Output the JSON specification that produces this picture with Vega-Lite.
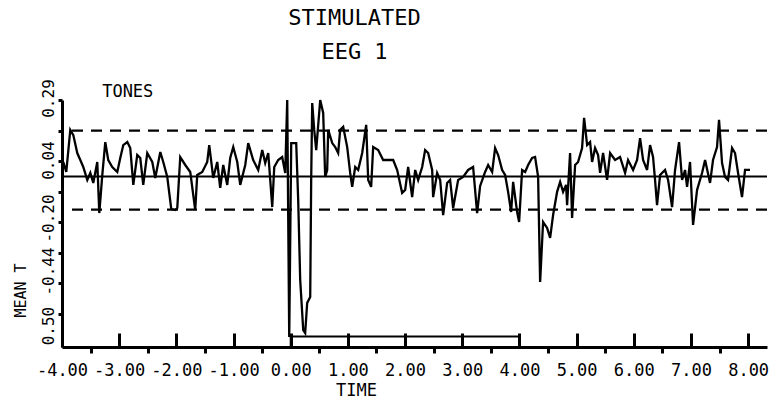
{
  "$schema": "https://vega.github.io/schema/vega-lite/v6.json",
  "width": 705,
  "height": 247,
  "autosize": {"type": "none"},
  "padding": {"left": 62, "top": 100, "right": 9, "bottom": 56},
  "background": "white",
  "config": {"view": {"stroke": null}, "font": "DejaVu Sans Mono", "axis": {"labelOverlap": false}},
  "title": {
    "text": "STIMULATED",
    "subtitle": "EEG 1",
    "anchor": "middle",
    "dx": -60,
    "font": "DejaVu Sans Mono",
    "fontSize": 22,
    "fontWeight": "normal",
    "color": "black",
    "subtitleFont": "DejaVu Sans Mono",
    "subtitleFontSize": 22,
    "subtitleColor": "black",
    "subtitlePadding": 12,
    "offset": 15
  },
  "datasets": {
    "eeg": [
      {"t": -3.977, "v": 0.041}, {"t": -3.925, "v": 0.001}, {"t": -3.855, "v": 0.170}, {"t": -3.802, "v": 0.149},
      {"t": -3.733, "v": 0.077}, {"t": -3.680, "v": 0.049}, {"t": -3.628, "v": 0.021}, {"t": -3.558, "v": -0.031},
      {"t": -3.505, "v": -0.003}, {"t": -3.453, "v": -0.043}, {"t": -3.383, "v": 0.041}, {"t": -3.348, "v": -0.164},
      {"t": -3.295, "v": -0.011}, {"t": -3.243, "v": 0.121}, {"t": -3.191, "v": 0.049}, {"t": -3.121, "v": 0.021},
      {"t": -3.033, "v": 0.001}, {"t": -2.981, "v": 0.057}, {"t": -2.928, "v": 0.109}, {"t": -2.858, "v": 0.121},
      {"t": -2.806, "v": 0.097}, {"t": -2.753, "v": -0.051}, {"t": -2.684, "v": 0.069}, {"t": -2.631, "v": 0.057},
      {"t": -2.579, "v": -0.051}, {"t": -2.509, "v": 0.077}, {"t": -2.421, "v": 0.041}, {"t": -2.369, "v": -0.023},
      {"t": -2.281, "v": 0.081}, {"t": -2.229, "v": 0.041}, {"t": -2.159, "v": -0.019}, {"t": -2.089, "v": -0.148},
      {"t": -2.019, "v": -0.152}, {"t": -1.984, "v": -0.144}, {"t": -1.932, "v": 0.061}, {"t": -1.844, "v": 0.029},
      {"t": -1.757, "v": 0.001}, {"t": -1.670, "v": -0.152}, {"t": -1.635, "v": -0.011}, {"t": -1.547, "v": 0.001},
      {"t": -1.460, "v": 0.041}, {"t": -1.425, "v": 0.109}, {"t": -1.355, "v": -0.023}, {"t": -1.285, "v": 0.041},
      {"t": -1.233, "v": -0.063}, {"t": -1.180, "v": 0.029}, {"t": -1.110, "v": -0.051}, {"t": -1.058, "v": 0.057},
      {"t": -1.005, "v": 0.101}, {"t": -0.935, "v": 0.041}, {"t": -0.883, "v": -0.051}, {"t": -0.795, "v": 0.029},
      {"t": -0.743, "v": 0.117}, {"t": -0.656, "v": 0.049}, {"t": -0.568, "v": 0.009}, {"t": -0.498, "v": 0.089},
      {"t": -0.446, "v": 0.037}, {"t": -0.393, "v": 0.077}, {"t": -0.323, "v": -0.140}, {"t": -0.288, "v": 0.021},
      {"t": -0.219, "v": 0.049}, {"t": -0.149, "v": 0.061}, {"t": -0.096, "v": -0.003}, {"t": -0.061, "v": 0.290},
      {"t": -0.026, "v": -0.662}, {"t": 0.009, "v": 0.117}, {"t": 0.096, "v": 0.117}, {"t": 0.131, "v": -0.112},
      {"t": 0.166, "v": -0.433}, {"t": 0.219, "v": -0.634}, {"t": 0.253, "v": -0.646}, {"t": 0.288, "v": -0.525},
      {"t": 0.341, "v": -0.501}, {"t": 0.358, "v": -0.031}, {"t": 0.376, "v": 0.278}, {"t": 0.411, "v": 0.170},
      {"t": 0.446, "v": 0.089}, {"t": 0.516, "v": 0.290}, {"t": 0.568, "v": 0.238}, {"t": 0.603, "v": -0.019},
      {"t": 0.638, "v": 0.009}, {"t": 0.656, "v": 0.170}, {"t": 0.726, "v": 0.117}, {"t": 0.778, "v": 0.101},
      {"t": 0.830, "v": 0.077}, {"t": 0.865, "v": 0.170}, {"t": 0.918, "v": 0.182}, {"t": 0.988, "v": 0.101},
      {"t": 1.040, "v": -0.003}, {"t": 1.075, "v": -0.059}, {"t": 1.128, "v": 0.021}, {"t": 1.180, "v": 0.009},
      {"t": 1.250, "v": 0.077}, {"t": 1.320, "v": 0.190}, {"t": 1.355, "v": -0.031}, {"t": 1.407, "v": -0.059},
      {"t": 1.442, "v": 0.101}, {"t": 1.530, "v": 0.089}, {"t": 1.617, "v": 0.049}, {"t": 1.687, "v": 0.049},
      {"t": 1.792, "v": 0.049}, {"t": 1.862, "v": 0.009}, {"t": 1.949, "v": -0.083}, {"t": 2.002, "v": -0.071},
      {"t": 2.054, "v": 0.021}, {"t": 2.124, "v": -0.100}, {"t": 2.177, "v": 0.009}, {"t": 2.229, "v": -0.031},
      {"t": 2.299, "v": 0.021}, {"t": 2.351, "v": 0.089}, {"t": 2.404, "v": 0.077}, {"t": 2.474, "v": 0.009},
      {"t": 2.491, "v": -0.100}, {"t": 2.561, "v": -0.003}, {"t": 2.614, "v": -0.031}, {"t": 2.666, "v": -0.172},
      {"t": 2.736, "v": -0.043}, {"t": 2.788, "v": -0.031}, {"t": 2.841, "v": -0.144}, {"t": 2.928, "v": -0.031},
      {"t": 3.016, "v": -0.019}, {"t": 3.103, "v": 0.009}, {"t": 3.190, "v": 0.021}, {"t": 3.260, "v": -0.164},
      {"t": 3.313, "v": -0.055}, {"t": 3.400, "v": 0.001}, {"t": 3.453, "v": 0.029}, {"t": 3.523, "v": 0.001},
      {"t": 3.575, "v": 0.097}, {"t": 3.628, "v": 0.069}, {"t": 3.698, "v": 0.009}, {"t": 3.750, "v": -0.011},
      {"t": 3.802, "v": -0.079}, {"t": 3.855, "v": -0.160}, {"t": 3.890, "v": -0.039}, {"t": 3.960, "v": -0.160},
      {"t": 3.995, "v": -0.200}, {"t": 4.047, "v": 0.009}, {"t": 4.100, "v": 0.001}, {"t": 4.152, "v": 0.029},
      {"t": 4.222, "v": 0.057}, {"t": 4.274, "v": 0.061}, {"t": 4.327, "v": -0.019}, {"t": 4.362, "v": -0.441},
      {"t": 4.414, "v": -0.200}, {"t": 4.484, "v": -0.224}, {"t": 4.537, "v": -0.264}, {"t": 4.589, "v": -0.172},
      {"t": 4.659, "v": -0.079}, {"t": 4.712, "v": -0.039}, {"t": 4.764, "v": -0.079}, {"t": 4.816, "v": -0.051},
      {"t": 4.834, "v": -0.132}, {"t": 4.886, "v": 0.077}, {"t": 4.921, "v": -0.184}, {"t": 4.974, "v": 0.029},
      {"t": 5.026, "v": 0.041}, {"t": 5.096, "v": 0.097}, {"t": 5.131, "v": 0.218}, {"t": 5.184, "v": 0.109},
      {"t": 5.236, "v": 0.121}, {"t": 5.271, "v": 0.041}, {"t": 5.323, "v": 0.097}, {"t": 5.376, "v": 0.069},
      {"t": 5.411, "v": -0.003}, {"t": 5.463, "v": 0.077}, {"t": 5.533, "v": -0.031}, {"t": 5.586, "v": 0.077},
      {"t": 5.673, "v": 0.049}, {"t": 5.760, "v": 0.061}, {"t": 5.848, "v": -0.003}, {"t": 5.900, "v": 0.049},
      {"t": 5.988, "v": 0.009}, {"t": 6.058, "v": 0.049}, {"t": 6.110, "v": 0.137}, {"t": 6.163, "v": 0.049},
      {"t": 6.233, "v": 0.009}, {"t": 6.285, "v": 0.109}, {"t": 6.337, "v": 0.061}, {"t": 6.372, "v": -0.031},
      {"t": 6.407, "v": -0.132}, {"t": 6.460, "v": -0.011}, {"t": 6.547, "v": 0.009}, {"t": 6.600, "v": -0.031},
      {"t": 6.670, "v": -0.140}, {"t": 6.722, "v": 0.009}, {"t": 6.792, "v": 0.121}, {"t": 6.845, "v": -0.031},
      {"t": 6.897, "v": 0.009}, {"t": 6.932, "v": -0.059}, {"t": 6.984, "v": 0.041}, {"t": 7.037, "v": -0.212},
      {"t": 7.107, "v": -0.071}, {"t": 7.194, "v": -0.003}, {"t": 7.247, "v": 0.049}, {"t": 7.334, "v": -0.043},
      {"t": 7.386, "v": 0.049}, {"t": 7.456, "v": 0.101}, {"t": 7.491, "v": 0.210}, {"t": 7.544, "v": 0.037},
      {"t": 7.596, "v": -0.019}, {"t": 7.649, "v": -0.031}, {"t": 7.719, "v": 0.097}, {"t": 7.771, "v": 0.077},
      {"t": 7.824, "v": -0.003}, {"t": 7.893, "v": -0.100}, {"t": 7.946, "v": 0.009}, {"t": 8.033, "v": 0.009}
    ],
    "mean": [{"v": -0.017}],
    "limits": [{"v": 0.167}, {"v": -0.15}],
    "stimulus": [{"t": 0, "t2": 4, "v": -0.702, "v2": -0.66}],
    "notes": [{"t": -2.85, "v": 0.324, "label": "TONES"}]
  },
  "layer": [
    {
      "data": {"name": "mean"},
      "mark": {"type": "rule", "color": "black", "strokeWidth": 2},
      "encoding": {
        "y": {"field": "v", "type": "quantitative", "scale": {"domain": [-0.702, 0.29], "nice": false, "zero": false}}
      }
    },
    {
      "data": {"name": "limits"},
      "mark": {"type": "rule", "color": "black", "strokeWidth": 2.2, "strokeDash": [11, 8]},
      "encoding": {
        "y": {"field": "v", "type": "quantitative", "scale": {"domain": [-0.702, 0.29], "nice": false, "zero": false}}
      }
    },
    {
      "data": {"name": "stimulus"},
      "mark": {"type": "rect", "filled": false, "color": "black", "strokeWidth": 2},
      "encoding": {
        "x": {"field": "t", "type": "quantitative", "scale": {"domain": [-4, 8.33], "nice": false, "zero": false}},
        "x2": {"field": "t2"},
        "y": {"field": "v", "type": "quantitative", "scale": {"domain": [-0.702, 0.29], "nice": false, "zero": false}},
        "y2": {"field": "v2"}
      }
    },
    {
      "data": {"name": "eeg"},
      "mark": {"type": "line", "color": "black", "strokeWidth": 2.3, "clip": false},
      "encoding": {
        "x": {
          "field": "t",
          "type": "quantitative",
          "scale": {"domain": [-4, 8.33], "nice": false, "zero": false},
          "axis": {
            "title": "TIME",
            "titleFont": "DejaVu Sans Mono",
            "titleFontSize": 17,
            "titleFontWeight": "normal",
            "titleColor": "black",
            "titleX": 294,
            "titleY": 43,
            "titleAlign": "center",
            "titleBaseline": "middle",
            "values": [-4, -3.5, -3, -2.5, -2, -1.5, -1, -0.5, 0, 0.5, 1, 1.5, 2, 2.5, 3, 3.5, 4, 4.5, 5, 5.5, 6, 6.5, 7, 7.5, 8],
            "tickCount": 100,
            "tickSize": {"condition": {"test": "datum.value % 1 !== 0", "value": 6}, "value": -14},
            "tickWidth": 3,
            "tickColor": "black",
            "domainWidth": 3,
            "domainColor": "black",
            "grid": false,
            "labelExpr": "datum.value % 1 !== 0 ? '' : (datum.value < 0 ? '-' : '') + format(abs(datum.value), '.2f')",
            "labelFont": "DejaVu Sans Mono",
            "labelFontSize": 17,
            "labelColor": "black",
            "labelPadding": 29,
            "labelBaseline": "top",
            "labelOverlap": false,
            "labelFlush": false,
            "labelBound": false
          }
        },
        "y": {
          "field": "v",
          "type": "quantitative",
          "scale": {"domain": [-0.702, 0.29], "nice": false, "zero": false},
          "axis": {
            "title": "MEAN T",
            "titleFont": "DejaVu Sans Mono",
            "titleFontSize": 15,
            "titleFontWeight": "normal",
            "titleColor": "black",
            "titleAngle": 270,
            "titleX": -42,
            "titleY": 190,
            "titleAlign": "center",
            "titleBaseline": "middle",
            "values": [0.29, 0.1675, 0.045, -0.0775, -0.2, -0.3225, -0.445, -0.5675],
            "tickCount": 100,
            "tickSize": 4,
            "tickWidth": 3,
            "tickColor": "black",
            "domainWidth": 3,
            "domainColor": "black",
            "grid": false,
            "labelExpr": "datum.value > 0.28 ? '0.29' : (datum.value > 0.03 && datum.value < 0.06) ? '0.04' : (datum.value > -0.25 && datum.value < -0.15) ? '-0.20' : (datum.value > -0.5 && datum.value < -0.4) ? '-0.44' : datum.value < -0.55 ? '0.50' : ''",
            "labelFont": "DejaVu Sans Mono",
            "labelFontSize": 16,
            "labelColor": "black",
            "labelAngle": 270,
            "labelAlign": "center",
            "labelBaseline": "alphabetic",
            "labelPadding": 5,
            "labelOverlap": false,
            "labelFlush": false,
            "labelBound": false,
            "labelOffset": {"expr": "datum.value < -0.55 ? 12 : (datum.value > -0.5 && datum.value < -0.4) ? -12 : (datum.value > -0.25 && datum.value < -0.15) ? -4 : datum.value > 0.28 ? -2 : (datum.value > 0.03 && datum.value < 0.06) ? -1 : 0"}
          }
        }
      }
    },
    {
      "data": {"name": "notes"},
      "mark": {"type": "text", "font": "DejaVu Sans Mono", "fontSize": 17, "align": "center", "baseline": "middle", "color": "black"},
      "encoding": {
        "x": {"field": "t", "type": "quantitative", "scale": {"domain": [-4, 8.33], "nice": false, "zero": false}},
        "y": {"field": "v", "type": "quantitative", "scale": {"domain": [-0.702, 0.29], "nice": false, "zero": false}},
        "text": {"field": "label"}
      }
    }
  ]
}
